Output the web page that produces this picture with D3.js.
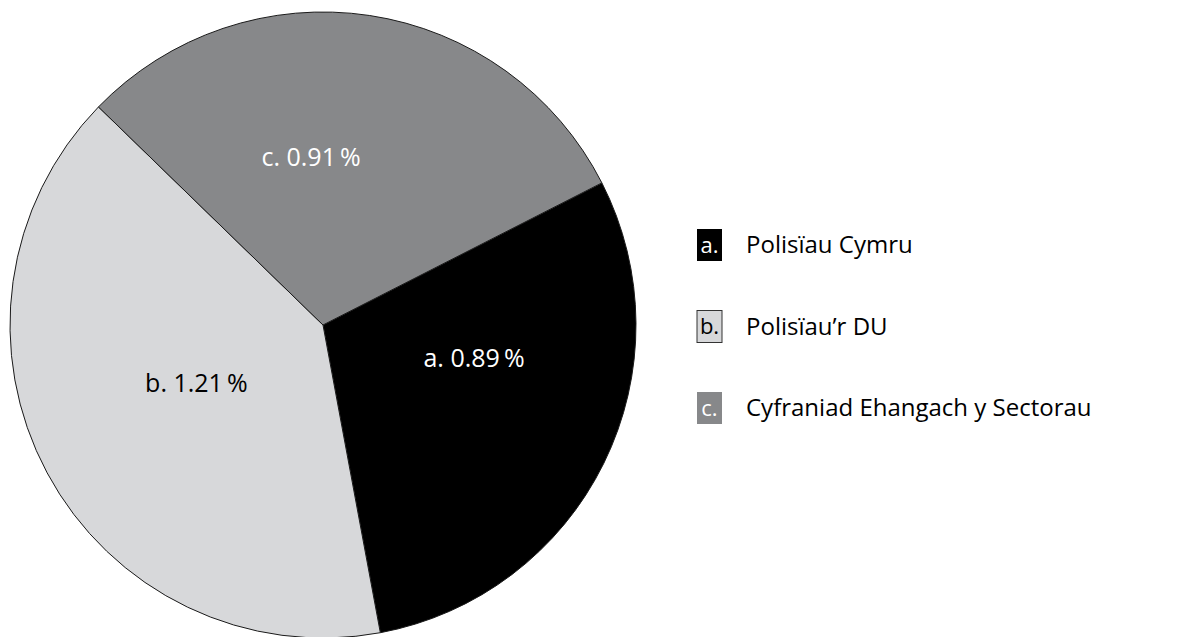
<!DOCTYPE html>
<html>
<head>
<meta charset="utf-8">
<script src="https://cdn.jsdelivr.net/npm/d3@7"></script>
<style>
  html, body { margin: 0; padding: 0; background: #fff; }
  svg { display: block; font-family: "Open Sans", sans-serif; }
</style>
</head>
<body>
<svg id="chart" width="1198" height="637"></svg>
<script>
// data
const keys = ["a.", "b.", "c."];
const names = ["Polisïau Cymru", "Polisïau’r DU", "Cyfraniad Ehangach y Sectorau"];
const values = [0.89, 1.21, 0.91];
const fills = ["#000000", "#d7d8da", "#87888a"];
const textFills = ["#ffffff", "#000000", "#ffffff"];

const WIDTH = 1198;
const HEIGHT = 637;
const CX = 323, CY = 325, R = 313;
const START = 63 * Math.PI / 180;
// hand placement of the slice labels, relative to the arc centroid
const LABEL_NUDGE = { "a.": [12, -35], "b.": [10, -15], "c.": [-35, -14] };

const svg = d3.select("#chart");

const data = keys.map((k, i) => ({ key: k, name: names[i], value: values[i], fill: fills[i], text: textFills[i] }));

// 1. pie layout, clockwise starting a bit past 2 o'clock
const pie = d3.pie()
  .sort(null)
  .value(d => d.value)
  .startAngle(START)
  .endAngle(START + 2 * Math.PI);

const arcs = pie(data);
const arc = d3.arc().innerRadius(0).outerRadius(R);
const labelArc = d3.arc().innerRadius(155).outerRadius(155);

const g = svg.append("g").attr("transform", `translate(${CX},${CY})`);

g.selectAll("path")
  .data(arcs)
  .join("path")
    .attr("d", arc)
    .attr("fill", d => d.data.fill)
    .attr("stroke", "#1a1a1a")
    .attr("stroke-width", 1);

// 2. slice labels
g.selectAll("text.slice")
  .data(arcs)
  .join("text")
    .attr("class", "slice")
    .attr("transform", d => {
      const [x, y] = labelArc.centroid(d);
      const [nx, ny] = LABEL_NUDGE[d.data.key];
      return `translate(${x + nx},${y + ny})`;
    })
    .attr("text-anchor", "middle")
    .attr("dy", "0.35em")
    .attr("font-size", 25)
    .attr("fill", d => d.data.text)
    .text(d => `${d.data.key} ${d3.format(".2f")(d.data.value)}\u2009%`);

// 3. legend
const legendY = d3.scalePoint()
  .domain(keys)
  .range([245, 408]);

const legend = svg.append("g").attr("transform", "translate(697,0)");
const row = legend.selectAll("g")
  .data(data)
  .join("g")
    .attr("transform", d => `translate(0,${legendY(d.key)})`);

row.append("rect")
  .attr("x", 0)
  .attr("y", -16)
  .attr("width", 25)
  .attr("height", 32)
  .attr("fill", d => d.fill)
  .attr("stroke", d => d.key === "b." ? "#333" : "none")
  .attr("stroke-width", 1);

row.append("text")
  .attr("x", 12.5)
  .attr("dy", "0.35em")
  .attr("text-anchor", "middle")
  .attr("font-size", 22)
  .attr("fill", d => d.text)
  .text(d => d.key);

row.append("text")
  .attr("x", 49)
  .attr("dy", "0.35em")
  .attr("font-size", 24)
  .attr("fill", "#000")
  .text(d => d.name);
</script>
</body>
</html>
